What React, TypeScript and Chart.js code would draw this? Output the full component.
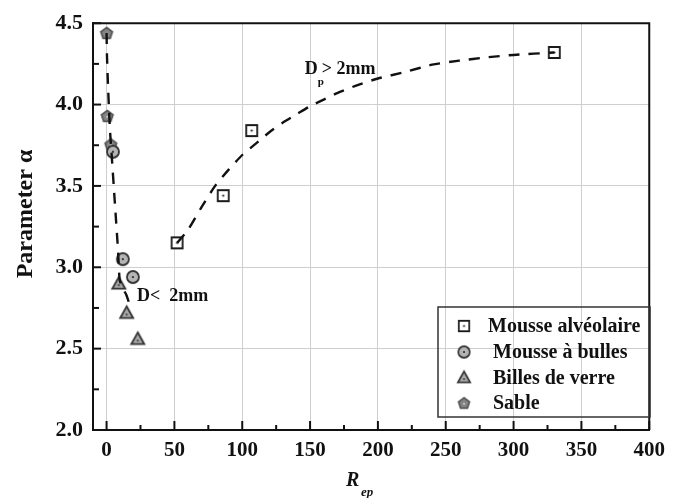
import { useEffect, useRef } from "react";
import { Chart, registerables } from "chart.js";

Chart.register(...registerables);

// ---- tick labels ----
const xTickValues = [0, 50, 100, 150, 200, 250, 300, 350, 400];
const yTickValues = [2.0, 2.5, 3.0, 3.5, 4.0, 4.5];

// ---- series ----
const alveolaireX = [52, 86, 107, 330];
const alveolaireY = [3.15, 3.44, 3.84, 4.32];
const bullesX = [4.7, 12, 19.4];
const bullesY = [3.71, 3.05, 2.94];
const billesX = [9, 14.8, 23];
const billesY = [2.9, 2.72, 2.56];
const sableX = [0, 0.5, 3.1];
const sableY = [4.44, 3.93, 3.755];

// ---- fitted dashed curves ----
const fitSmallX = [0, 0.3, 1, 1.8, 2.4, 3, 3.6, 6, 8.4, 9.7, 12, 14.6, 17];
const fitSmallY = [4.44, 4.3, 4.13, 3.97, 3.86, 3.78, 3.71, 3.41, 3.11, 2.92, 2.87, 2.83, 2.77];
const fitLargeX = [52, 60, 70, 80, 90, 100, 110, 120, 130, 140, 150, 160, 170, 185, 200, 220, 240, 260, 280, 300, 330];
const fitLargeY = [3.15, 3.23, 3.37, 3.5, 3.6, 3.69, 3.76, 3.83, 3.89, 3.94, 3.99, 4.03, 4.07, 4.12, 4.16, 4.2, 4.245, 4.27, 4.29, 4.305, 4.32];

const seriesLabels = ["Mousse alvéolaire", "Mousse à bulles", "Billes de verre", "Sable"];

const SERIF = '"Liberation Serif", "Times New Roman", serif';

function zip(xs: number[], ys: number[]) {
  return xs.map((x, i) => ({ x, y: ys[i] }));
}

function makeMarker(shape: string, size: number, fill: string, stroke: string, dot: string) {
  const c = document.createElement("canvas");
  const pad = 3;
  c.width = size + pad * 2;
  c.height = size + pad * 2;
  const ctx = c.getContext("2d")!;
  const cx = c.width / 2;
  const cy = c.height / 2;
  const r = size / 2;
  let dy = 0;
  ctx.beginPath();
  if (shape === "square") {
    ctx.rect(cx - r, cy - r, size, size);
  } else if (shape === "circle") {
    ctx.arc(cx, cy, r, 0, Math.PI * 2);
  } else if (shape === "triangle") {
    ctx.moveTo(cx, cy - r);
    ctx.lineTo(cx + r, cy + r * 0.8);
    ctx.lineTo(cx - r, cy + r * 0.8);
    ctx.closePath();
    dy = r * 0.25;
  } else {
    for (let i = 0; i < 5; i++) {
      const a = -Math.PI / 2 + (i * 2 * Math.PI) / 5;
      const px = cx + r * Math.cos(a);
      const py = cy + r * Math.sin(a) + 0.6;
      if (i === 0) ctx.moveTo(px, py);
      else ctx.lineTo(px, py);
    }
    ctx.closePath();
    dy = 0.8;
  }
  ctx.fillStyle = fill;
  ctx.fill();
  ctx.lineWidth = 1.8;
  ctx.strokeStyle = stroke;
  ctx.lineJoin = "miter";
  ctx.stroke();
  ctx.beginPath();
  ctx.arc(cx, cy + dy, 1.1, 0, Math.PI * 2);
  ctx.fillStyle = dot;
  ctx.fill();
  return c;
}

const decorPlugin = {
  id: "decor",
  afterDraw(chart: any) {
    const ctx: CanvasRenderingContext2D = chart.ctx;
    const { left, right, top, bottom } = chart.chartArea;
    const xs = chart.scales.x;
    const ys = chart.scales.y;
    ctx.save();
    // top & right frame
    ctx.strokeStyle = "#111";
    ctx.lineWidth = 2;
    ctx.beginPath();
    ctx.moveTo(left, top);
    ctx.lineTo(right, top);
    ctx.lineTo(right, bottom);
    ctx.stroke();
    // inward ticks
    ctx.lineWidth = 2;
    for (let v = 0; v <= 400; v += 25) {
      const px = xs.getPixelForValue(v);
      const len = v % 50 === 0 ? 9 : 5;
      ctx.beginPath();
      ctx.moveTo(px, bottom);
      ctx.lineTo(px, bottom - len);
      ctx.stroke();
    }
    for (let v = 2.0; v <= 4.5001; v += 0.25) {
      const py = ys.getPixelForValue(v);
      const major = Math.abs(v * 2 - Math.round(v * 2)) < 1e-6;
      const len = major ? 8 : 6;
      ctx.beginPath();
      ctx.moveTo(left, py);
      ctx.lineTo(left + len, py);
      ctx.stroke();
    }

    ctx.fillStyle = "#111";
    // y title
    ctx.save();
    ctx.translate(32, 214);
    ctx.rotate(-Math.PI / 2);
    ctx.font = `bold 24px ${SERIF}`;
    ctx.textAlign = "center";
    ctx.textBaseline = "alphabetic";
    ctx.fillText("Parameter α", 0, 0);
    ctx.restore();

    // x title R_ep
    ctx.textAlign = "left";
    ctx.textBaseline = "alphabetic";
    ctx.font = `italic bold 20px ${SERIF}`;
    ctx.fillText("R", 346, 486);
    ctx.font = `italic bold 13px ${SERIF}`;
    ctx.fillText("ep", 361, 496);

    // annotations
    const ax = xs.getPixelForValue(146);
    const ay = ys.getPixelForValue(4.185);
    ctx.font = `bold 18px ${SERIF}`;
    ctx.fillText("D", ax, ay);
    ctx.font = `bold 11px ${SERIF}`;
    ctx.fillText("p", ax + 13, ay + 11);
    ctx.font = `bold 18px ${SERIF}`;
    ctx.fillText("> 2mm", ax + 17, ay);

    const bx = xs.getPixelForValue(22.5);
    const by = ys.getPixelForValue(2.795);
    ctx.fillText("D<  2mm", bx, by);

    // legend
    const lx0 = 438, ly0 = 307, lx1 = 650, ly1 = 417;
    ctx.strokeStyle = "#333";
    ctx.lineWidth = 1.5;
    ctx.strokeRect(lx0, ly0, lx1 - lx0, ly1 - ly0);
    const rows = [326, 352, 377.5, 403];
    const textX = [488, 493, 493, 493];
    ctx.font = `bold 20px ${SERIF}`;
    ctx.textBaseline = "middle";
    const legendSets = chart.data.datasets.filter((d: any) => d.inLegend);
    legendSets.forEach((d: any, i: number) => {
      const img = d.pointStyle as HTMLCanvasElement;
      const w = img.width * 0.95;
      const h = img.height * 0.95;
      ctx.drawImage(img, 464 - w / 2, rows[i] - h / 2, w, h);
      ctx.fillStyle = "#111";
      ctx.fillText(d.label, textX[i], rows[i] + 1);
    });
    ctx.restore();
  },
};

export default function App() {
  const ref = useRef<HTMLCanvasElement>(null);
  useEffect(() => {
    const canvas = ref.current!;
    const sq = makeMarker("square", 11, "#ffffff", "#1a1a1a", "#111");
    const ci = makeMarker("circle", 12, "#b5b5b5", "#333", "#222");
    const tr = makeMarker("triangle", 13, "#aaaaaa", "#333", "#444");
    const pe = makeMarker("pentagon", 12, "#858585", "#555", "#c8c8c8");
    const lineStyle = {
      showLine: true,
      borderColor: "#111",
      borderWidth: 2.4,
      borderDash: [11, 9],
      pointRadius: 0,
      pointHoverRadius: 0,
      fill: false,
      tension: 0.2,
      order: 0,
    };
    const chart = new Chart(canvas, {
      type: "scatter",
      data: {
        datasets: [
          { label: "fitLarge", data: zip(fitLargeX, fitLargeY), ...lineStyle } as any,
          { label: "fitSmall", data: zip(fitSmallX, fitSmallY), ...lineStyle } as any,
          { label: seriesLabels[0], data: zip(alveolaireX, alveolaireY), pointStyle: sq, pointRadius: 6, order: 1, inLegend: true } as any,
          { label: seriesLabels[1], data: zip(bullesX, bullesY), pointStyle: ci, pointRadius: 6, order: 1, inLegend: true } as any,
          { label: seriesLabels[2], data: zip(billesX, billesY), pointStyle: tr, pointRadius: 6, order: 1, inLegend: true } as any,
          { label: seriesLabels[3], data: zip(sableX, sableY), pointStyle: pe, pointRadius: 6, order: 1, inLegend: true } as any,
        ],
      },
      options: {
        animation: false,
        responsive: false,
        devicePixelRatio: 1,
        layout: { padding: { top: 16, right: 17, left: 0, bottom: 0 } },
        plugins: { legend: { display: false }, tooltip: { enabled: false } },
        events: [],
        scales: {
          x: {
            type: "linear",
            min: -10,
            max: 400,
            afterBuildTicks: (s: any) => {
              s.ticks = xTickValues.map((v) => ({ value: v }));
            },
            afterFit: (s: any) => {
              s.height = 68;
            },
            grid: { color: "#cfcfcf", lineWidth: 1, drawTicks: false },
            border: { display: true, color: "#111", width: 2 },
            ticks: {
              padding: 8,
              color: "#111",
              font: { family: SERIF, weight: "bold", size: 21 },
              callback: (v: any) => String(v),
              maxRotation: 0,
              autoSkip: false,
            },
          },
          y: {
            type: "linear",
            min: 2.0,
            max: 4.5,
            afterBuildTicks: (s: any) => {
              s.ticks = yTickValues.map((v) => ({ value: v }));
            },
            afterFit: (s: any) => {
              s.width = 93;
            },
            grid: { color: "#cfcfcf", lineWidth: 1, drawTicks: false },
            border: { display: true, color: "#111", width: 2 },
            ticks: {
              padding: 10,
              color: "#111",
              font: { family: SERIF, weight: "bold", size: 22 },
              callback: (v: any) => Number(v).toFixed(1),
              autoSkip: false,
            },
          },
        },
      } as any,
      plugins: [decorPlugin],
    });
    return () => chart.destroy();
  }, []);
  return (
    <div style={{ position: "fixed", left: 0, top: 0, width: 673, height: 498, background: "#fff" }}>
      <canvas ref={ref} width={673} height={498} style={{ width: 673, height: 498, display: "block" }} />
    </div>
  );
}
